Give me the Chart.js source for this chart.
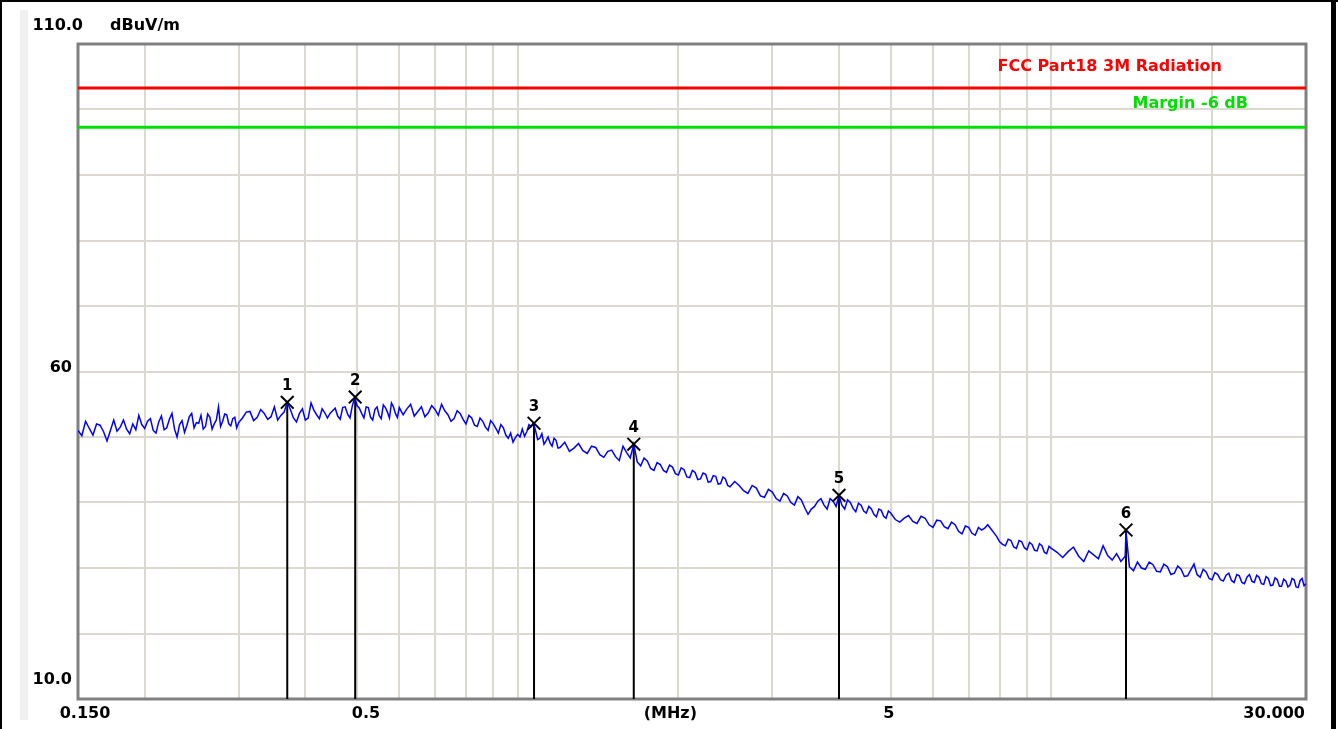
<!DOCTYPE html>
<html>
<head>
<meta charset="utf-8">
<script src="https://cdn.jsdelivr.net/npm/chart.js@4.4.0/dist/chart.umd.min.js"></script>
<style>
  html, body { margin: 0; padding: 0; background: #fff; }
  canvas { display: block; }
</style>
</head>
<body>
<canvas id="emi" width="1338" height="729"></canvas>
<script>
// sweep, MHz / dBuV/m
const traceFreq = [
  0.150,0.1525,0.155,0.1575,0.160,0.1625,0.165,0.1675,0.170,0.1725,
  0.175,0.1775,0.180,0.1825,0.185,0.1875,0.190,0.1925,0.195,0.1975,
  0.200,0.2025,0.205,0.2075,0.210,0.2125,0.215,0.2175,0.220,0.2225,
  0.225,0.2275,0.230,0.2325,0.235,0.2375,0.240,0.2425,0.245,0.2475,
  0.250,0.2525,0.255,0.2575,0.260,0.2625,0.265,0.2675,0.270,0.2725,
  0.275,0.2775,0.280,0.2825,0.285,0.2875,0.290,0.2925,0.295,0.2975,
  0.300,
  0.305,0.31,0.315,0.32,0.325,0.33,0.335,0.34,0.345,0.35,
  0.355,0.36,0.365,0.37,0.375,0.38,0.385,0.39,0.395,0.40,
  0.405,0.41,0.415,0.42,0.425,0.43,0.435,0.44,0.445,0.45,
  0.455,0.46,0.465,0.47,0.475,0.48,0.485,0.49,0.495,0.50,
  0.505,0.51,0.515,0.52,0.525,0.53,0.535,0.54,0.545,0.55,
  0.555,0.56,0.565,0.57,0.575,0.58,0.585,0.59,0.595,0.60,
  0.61,0.62,0.63,0.64,0.65,0.66,0.67,0.68,0.69,0.70,
  0.71,0.72,0.73,0.74,0.75,0.76,0.77,0.78,0.79,0.80,
  0.81,0.82,0.83,0.84,0.85,0.86,0.87,0.88,0.89,0.90,
  0.91,0.92,0.93,0.94,0.95,0.96,0.97,0.98,0.99,1.00,
  1.01,1.02,1.03,1.04,1.05,1.06,1.07,1.08,1.09,1.10,
  1.11,1.12,1.13,1.14,1.15,1.16,1.17,1.18,1.19,1.20,
  1.225,1.25,1.275,1.30,1.325,1.35,1.375,1.40,1.425,1.45,
  1.475,1.50,1.525,1.55,1.575,1.60,1.625,1.65,1.675,1.70,
  1.725,1.75,1.775,1.80,1.825,1.85,1.875,1.90,1.925,1.95,
  1.975,2.00,2.025,2.05,2.075,2.10,2.125,2.15,2.175,2.20,
  2.225,2.25,2.275,2.30,2.325,2.35,2.375,2.40,2.425,2.45,
  2.475,2.50,
  2.55,2.6,2.65,2.7,2.75,2.8,2.85,2.9,2.95,3.0,
  3.05,3.1,3.15,3.2,3.25,3.3,3.35,3.4,3.45,3.5,
  3.55,3.6,3.65,3.7,3.75,3.8,3.85,3.9,3.95,4.0,
  4.05,4.1,4.15,4.2,4.25,4.3,4.35,4.4,4.45,4.5,
  4.55,4.6,4.65,4.7,4.75,4.8,4.85,4.9,4.95,5.0,
  5.1,5.2,5.3,5.4,5.5,5.6,5.7,5.8,5.9,6.0,
  6.1,6.2,6.3,6.4,6.5,6.6,6.7,6.8,6.9,7.0,
  7.1,7.2,7.3,7.4,7.5,7.6,7.7,7.8,7.9,8.0,
  8.1,8.2,8.3,8.4,8.5,8.6,8.7,8.8,8.9,9.0,
  9.1,9.2,9.3,9.4,9.5,9.6,9.7,9.8,9.9,10.0,
  10.25,10.5,10.75,11,11.25,11.5,11.75,12,12.25,12.5,
  12.75,13,13.25,13.5,13.75,13.8,14,14.25,14.5,14.75,
  15,15.25,15.5,15.75,16,16.25,16.5,16.75,17,17.25,
  17.5,17.75,18,18.25,18.5,18.75,19,19.25,19.5,19.75,
  20,
  20.25,20.5,20.75,21,21.25,21.5,21.75,22,22.25,22.5,
  22.75,23,23.25,23.5,23.75,24,24.25,24.5,24.75,25,
  25.25,25.5,25.75,26,26.25,26.5,26.75,27,27.25,27.5,
  27.75,28,28.25,28.5,28.75,29,29.25,29.5,29.75,30
];
const traceLevel = [
  51.0,50.2,52.4,51.3,50.3,52.0,51.8,50.8,49.4,51.0,
  52.6,50.9,51.5,52.6,51.2,50.5,52.0,51.1,53.3,51.9,
  51.3,52.4,52.8,51.0,50.6,52.3,53.2,51.1,51.4,52.7,
  53.6,51.2,50.0,51.9,52.5,50.7,51.8,53.1,53.6,51.4,
  52.2,52.1,53.3,51.2,51.6,53.5,53.0,51.2,52.0,52.6,
  54.6,51.6,52.4,53.5,53.4,52.0,51.7,52.8,53.0,51.4,
  52.2,
  52.9,53.8,53.9,52.5,53.0,54.2,53.6,52.7,53.1,54.6,
  52.6,53.3,53.8,55.3,54.2,52.9,52.3,53.6,54.3,52.6,
  52.9,55.2,54.1,53.4,52.8,54.3,53.7,52.9,53.6,54.0,
  54.4,53.2,52.7,54.5,54.6,53.5,52.9,54.8,56.0,54.8,
  54.4,53.6,52.9,54.6,54.5,53.0,52.6,54.2,54.6,53.3,
  52.8,54.9,54.5,53.8,52.9,55.2,54.6,53.6,53.0,54.5,
  53.4,54.3,55.0,53.2,53.9,54.6,53.1,53.7,54.8,54.2,
  53.3,55.0,54.0,53.4,52.4,52.8,54.0,53.6,52.7,52.0,
  53.3,52.9,51.8,51.6,52.9,52.4,51.5,51.0,52.5,52.0,
  51.3,50.6,51.9,51.4,50.3,49.8,50.6,49.2,49.9,50.4,
  50.0,51.2,50.1,50.8,51.9,51.6,52.1,51.0,49.6,49.8,
  50.5,48.9,49.4,50.0,49.1,48.6,49.8,49.5,48.3,48.4,
  49.2,47.8,48.3,49.0,47.9,47.5,48.6,48.4,47.3,46.9,
  47.8,48.0,47.0,46.4,48.6,47.6,46.8,48.9,46.2,45.6,
  46.8,46.3,45.2,44.9,46.1,45.8,44.9,44.6,45.7,45.4,
  44.4,44.2,45.3,45.0,43.9,43.8,44.9,44.6,43.5,43.6,
  44.5,44.3,43.1,43.2,44.1,44.0,42.8,42.9,43.9,43.6,
  42.6,42.4,
  43.2,42.6,41.8,41.4,42.6,42.2,41.0,40.8,42.0,41.6,
  40.6,40.2,41.4,41.0,40.0,39.6,40.9,40.4,39.2,38.2,
  39.0,39.4,40.2,40.6,39.6,39.0,40.6,40.2,39.4,41.1,
  39.6,39.0,40.4,40.0,39.1,38.6,39.9,39.6,38.7,38.4,
  39.4,39.0,38.2,37.8,39.0,38.8,37.9,37.6,38.7,38.4,
  37.4,37.0,37.6,38.0,37.1,36.8,37.9,37.6,36.6,36.2,
  37.3,37.2,36.3,36.0,37.0,36.6,35.6,35.2,36.4,36.2,
  35.3,35.0,36.2,35.8,36.1,36.6,36.0,35.4,34.8,34.0,
  33.6,33.4,34.4,34.2,33.2,33.0,34.2,34.0,33.1,32.8,
  33.9,33.6,32.7,32.6,33.7,33.4,32.4,32.2,33.3,33.0,
  32.4,31.6,32.5,33.2,31.8,31.0,32.6,32.0,31.4,33.4,
  31.9,31.2,32.2,31.0,31.8,35.6,30.2,29.6,30.9,30.0,
  29.8,30.9,30.5,29.5,29.4,30.6,30.2,29.0,29.2,30.3,
  29.8,28.7,28.8,29.7,30.6,29.0,28.6,29.8,29.4,28.4,
  28.2,
  29.3,29.0,28.2,28.0,28.9,29.2,28.1,27.8,29.0,28.8,
  27.8,27.6,28.6,29.0,28.0,27.8,28.9,28.6,27.6,27.5,
  28.7,28.4,27.3,27.4,28.5,28.2,27.2,27.2,28.3,28.0,
  27.1,27.4,28.4,28.2,27.1,27.0,28.1,28.4,27.3,27.6
];

const markerFreq = [0.37, 0.496, 1.073, 1.65, 4.0, 13.8];
const markerLevel = [55.3, 56.1, 52.1, 48.9, 41.1, 35.8];

const limitLevel = 103.3;
const marginLevel = 97.3;
const limitName = 'FCC Part18 3M Radiation';
const marginName = 'Margin -6 dB';

const gridFreq = [0.15,0.2,0.3,0.4,0.5,0.6,0.7,0.8,0.9,1,2,3,4,5,6,7,8,9,10,20,30];
const xLabelValue = [0.15, 0.5, 2, 5, 30];
const xLabelText = ['0.150', '0.5', '(MHz)', '5', '30.000'];
const yLabelValue = [110, 60, 10];
const yLabelText = ['110.0', '60', '10.0'];
const yUnit = 'dBuV/m';

const FONT = '"DejaVu Sans", sans-serif';

const stems = markerFreq.map((f, i) => ({
  data: [{x: f, y: 10}, {x: f, y: markerLevel[i]}],
  showLine: true,
  borderColor: '#000',
  borderWidth: 2,
  pointRadius: 0
}));

const decor = {
  id: 'decor',
  beforeDraw(chart) {
    const c = chart.ctx;
    c.save();
    c.fillStyle = '#fff';
    c.fillRect(0, 0, chart.width, chart.height);
    c.fillStyle = '#f0f0f0';
    c.fillRect(20, 10, 8, 710);
    c.fillStyle = '#000';
    c.fillRect(0, 0, chart.width, 2);
    c.fillRect(0, 0, 2, chart.height);
    c.fillRect(1331, 0, 5, chart.height);
    c.restore();
  },
  beforeDatasetsDraw(chart) {
    const a = chart.chartArea, c = chart.ctx;
    c.save();
    c.strokeStyle = '#808080';
    c.lineWidth = 3;
    c.strokeRect(a.left, a.top, a.right - a.left, a.bottom - a.top);
    c.restore();
  },
  afterDatasetsDraw(chart) {
    const c = chart.ctx, a = chart.chartArea;
    const xs = chart.scales.x, ys = chart.scales.y;
    c.save();
    c.textBaseline = 'middle';
    c.font = 'bold 16px ' + FONT;
    c.fillStyle = '#000';

    // y labels
    yLabelText.forEach((t, i) => {
      const py = ys.getPixelForValue(yLabelValue[i]);
      c.textAlign = 'right';
      if (i === 0) c.fillText(t, 83, py - 18);
      else if (i === yLabelText.length - 1) c.fillText(t, 72, py - 19);
      else c.fillText(t, 72, py - 4);
    });
    c.textAlign = 'left';
    c.fillText(yUnit, 110, ys.getPixelForValue(110) - 18);

    // x labels
    const dx = [7, 9, -8, -2, 0];
    xLabelText.forEach((t, i) => {
      const px = xs.getPixelForValue(xLabelValue[i]);
      if (i === xLabelText.length - 1) {
        c.textAlign = 'right';
        c.fillText(t, px - 1, a.bottom + 15);
      } else {
        c.textAlign = 'center';
        c.fillText(t, px + dx[i], a.bottom + 15);
      }
    });

    // limit names
    c.textAlign = 'right';
    c.fillStyle = '#ff0000';
    c.fillText(limitName, a.right - 84, ys.getPixelForValue(limitLevel) - 21);
    c.fillStyle = '#00e000';
    c.fillText(marginName, a.right - 58, ys.getPixelForValue(marginLevel) - 23);

    // marker numbers
    c.fillStyle = '#000';
    c.textAlign = 'center';
    c.font = 'bold 15px ' + FONT;
    markerFreq.forEach((f, i) => {
      c.fillText(String(i + 1), xs.getPixelForValue(f), ys.getPixelForValue(markerLevel[i]) - 16);
    });
    c.restore();
  }
};

new Chart(document.getElementById('emi'), {
  type: 'scatter',
  data: {
    datasets: [
      {
        data: markerFreq.map((f, i) => ({x: f, y: markerLevel[i]})),
        pointStyle: 'crossRot',
        pointRadius: 9,
        borderColor: '#000',
        borderWidth: 2,
        showLine: false
      },
      {
        data: traceFreq.map((f, i) => ({x: f, y: traceLevel[i]})),
        showLine: true,
        borderColor: '#0000ff',
        borderWidth: 1.5,
        pointRadius: 0,
        tension: 0
      },
      ...stems,
      {
        data: [{x: 0.15, y: limitLevel}, {x: 30, y: limitLevel}],
        showLine: true, borderColor: '#ff0000', borderWidth: 3, pointRadius: 0
      },
      {
        data: [{x: 0.15, y: marginLevel}, {x: 30, y: marginLevel}],
        showLine: true, borderColor: '#00e000', borderWidth: 3, pointRadius: 0
      }
    ]
  },
  options: {
    responsive: false,
    animation: false,
    devicePixelRatio: 1,
    layout: { padding: { left: 78, right: 32, top: 44, bottom: 30 } },
    plugins: { legend: { display: false }, tooltip: { enabled: false } },
    scales: {
      x: {
        type: 'logarithmic',
        min: 0.15,
        max: 30,
        ticks: { display: false },
        grid: { color: '#dcd8d0', lineWidth: 2, drawTicks: false },
        border: { display: false },
        afterBuildTicks: s => { s.ticks = gridFreq.map(v => ({ value: v })); }
      },
      y: {
        min: 10,
        max: 110,
        ticks: { display: false, stepSize: 10 },
        grid: { color: '#dcd8d0', lineWidth: 2, drawTicks: false },
        border: { display: false }
      }
    }
  },
  plugins: [decor]
});
</script>
</body>
</html>
